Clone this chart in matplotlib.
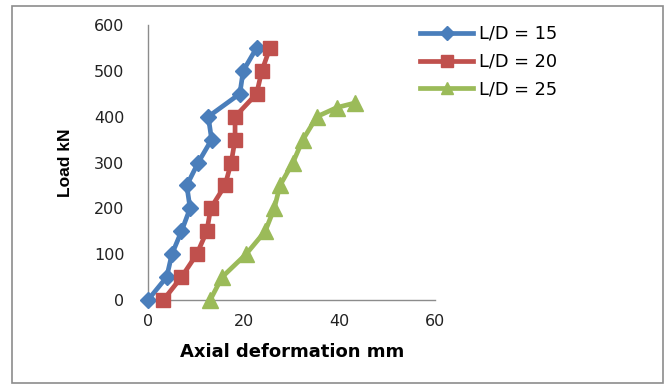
import matplotlib
matplotlib.use("Agg")
import matplotlib.pyplot as plt
from matplotlib.patches import Rectangle

# Data
load_15 = [0, 50, 100, 150, 200, 250, 300, 350, 400, 450, 500, 550]
defl_15 = [0.0, 3.9, 5.0, 7.0, 8.8, 8.1, 10.5, 13.3, 12.6, 19.2, 19.9, 22.7]

load_20 = [0, 50, 100, 150, 200, 250, 300, 350, 400, 450, 500, 550]
defl_20 = [3.2, 7.0, 10.2, 12.3, 13.1, 16.1, 17.4, 18.2, 18.2, 22.7, 23.8, 25.5]

load_25 = [0, 50, 100, 150, 200, 250, 300, 350, 400, 420, 430]
defl_25 = [13.0, 15.5, 20.5, 24.5, 26.4, 27.6, 30.3, 32.4, 35.3, 39.5, 43.3]

labels = ["L/D = 15", "L/D = 20", "L/D = 25"]
x_ticks = [0, 20, 40, 60]
y_ticks = [0, 100, 200, 300, 400, 500, 600]

W, H = 668, 387
fig = plt.figure(figsize=(W / 100, H / 100), dpi=100)
fig.patch.set_facecolor("white")

ax = fig.add_axes([148 / W, 1 - 300 / H, (435 - 148) / W, (300 - 25) / H])

blue, red, green = "#4A7EBB", "#C0504D", "#9BBB59"
ax.plot(defl_15, load_15, color=blue, lw=3.4, marker="D", ms=8, mfc=blue, mec=blue,
        label=labels[0], clip_on=False, zorder=3)
ax.plot(defl_20, load_20, color=red, lw=3.4, marker="s", ms=10.5, mfc=red, mec=red,
        label=labels[1], clip_on=False, zorder=4)
ax.plot(defl_25, load_25, color=green, lw=3.4, marker="^", ms=11, mfc=green, mec=green,
        label=labels[2], clip_on=False, zorder=5)

ax.set_xlim(0, 60)
ax.set_ylim(0, 600)
ax.set_xticks(x_ticks)
ax.set_yticks(y_ticks)
for s in ["top", "right"]:
    ax.spines[s].set_visible(False)
for s in ["left", "bottom"]:
    ax.spines[s].set_color("#8C8C8C")
    ax.spines[s].set_linewidth(1.0)
ax.tick_params(axis="both", length=0, labelsize=11.5, colors="#222222")
ax.tick_params(axis="y", pad=17)
ax.tick_params(axis="x", pad=10)

fig.text(292 / W, 1 - 352 / H, "Axial deformation mm", ha="center", va="center",
         fontsize=13, fontweight="bold")
fig.text(65 / W, 1 - 163 / H, "Load kN", ha="center", va="center", rotation=90,
         fontsize=12.5, fontweight="bold",
         family=["Liberation Sans", "DejaVu Sans"])

leg = ax.legend(loc="upper left", bbox_to_anchor=(420 / W, 1 - 25 / H),
                bbox_transform=fig.transFigure, frameon=False, fontsize=12.8,
                borderpad=0, borderaxespad=0, handlelength=3.0, handletextpad=0.3,
                labelspacing=0.55, markerscale=0.85)

fig.add_artist(Rectangle((12 / W, 1 - 383 / H), (663 - 12) / W, (383 - 6) / H,
                         transform=fig.transFigure, fill=False,
                         edgecolor="#8C8C8C", lw=1.2))

fig.savefig("out.png", dpi=100)
